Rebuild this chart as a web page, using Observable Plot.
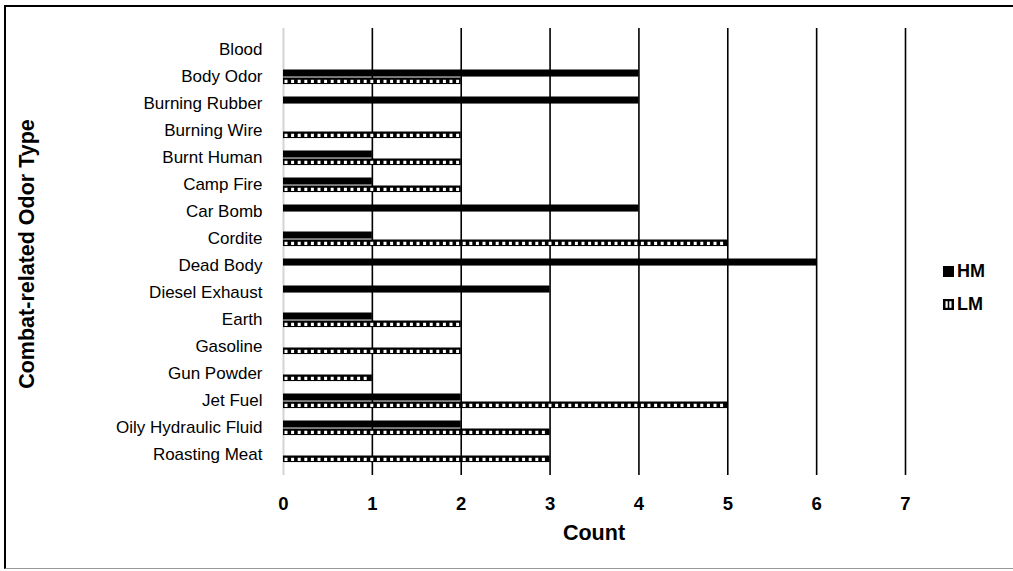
<!DOCTYPE html>
<html>
<head>
<meta charset="utf-8">
<script src="https://cdn.jsdelivr.net/npm/d3@7"></script>
<script src="https://cdn.jsdelivr.net/npm/@observablehq/plot@0.6"></script>
<style>
  body { margin: 0; background: #fff; font-family: "Liberation Sans", Arial, sans-serif; }
  #wrap { position: relative; width: 1013px; height: 571px; overflow: hidden; background: #fff; }
  #frame { position: absolute; left: 4px; top: 5px; width: 1030px; height: 561px;
           border-top: 2.5px solid #000; border-left: 2px solid #000; border-bottom: 1.5px solid #999; }
  #chart { position: absolute; left: 0; top: 0; }
  .ytitle { position: absolute; left: 27px; top: 254px; transform: translate(-50%, -50%) rotate(-90deg);
            font-weight: bold; font-size: 21.5px; white-space: nowrap; color: #000; }
  .xtitle { position: absolute; left: 594px; top: 533px; transform: translate(-50%, -50%);
            font-weight: bold; font-size: 21.5px; color: #000; }
  .leg { position: absolute; left: 943px; display: flex; align-items: center; font-weight: bold; font-size: 18px; color: #000; }
  .leg svg { margin-right: 3px; }
</style>
</head>
<body>
<div id="wrap">
  <div id="frame"></div>
  <div id="chart"></div>
  <div class="ytitle">Combat-related Odor Type</div>
  <div class="xtitle">Count</div>
  <div class="leg" style="top:261px"><svg width="11" height="11"><rect width="11" height="11" fill="#000"/></svg>HM</div>
  <div class="leg" style="top:294px"><svg width="11" height="11"><rect width="11" height="11" fill="#000"/><rect x="2.5" y="2.2" width="2.2" height="6.6" fill="#fff"/><rect x="6.3" y="2.2" width="2.2" height="6.6" fill="#fff"/></svg>LM</div>
</div>
<script>
const odors = ["Blood", "Body Odor", "Burning Rubber", "Burning Wire", "Burnt Human", "Camp Fire",
  "Car Bomb", "Cordite", "Dead Body", "Diesel Exhaust", "Earth", "Gasoline", "Gun Powder",
  "Jet Fuel", "Oily Hydraulic Fluid", "Roasting Meat"];
const hmCounts = [0, 4, 4, 0, 1, 1, 4, 1, 6, 3, 1, 0, 0, 2, 2, 0];
const lmCounts = [0, 2, 0, 2, 2, 2, 0, 5, 0, 0, 2, 2, 1, 5, 3, 3];
const xTicks = [0, 1, 2, 3, 4, 5, 6, 7];

const rows = odors.map((o, i) => ({odor: o, HM: hmCounts[i], LM: lmCounts[i]}));
const W = 1013, H = 571, mT = 28, mB = 96, mL = 283, mR = 108;
const band = (H - mT - mB) / odors.length;

const chart = Plot.plot({
  width: W, height: H,
  marginLeft: mL, marginRight: mR, marginTop: mT, marginBottom: mB,
  style: {fontFamily: '"Liberation Sans", Arial, sans-serif', background: "transparent", color: "#000"},
  x: {domain: [0, 7], label: null},
  y: {domain: odors, padding: 0, label: null},
  marks: [
    Plot.ruleX(xTicks.filter(d => d > 0), {stroke: "#000", strokeWidth: 1.6}),
    Plot.ruleX([0], {stroke: "#d4d4d4", strokeWidth: 2}),
    Plot.barX(rows.filter(d => d.HM > 0), {y: "odor", x: "HM", fill: "#000",
      insetTop: 6.5, insetBottom: band - 14.5}),
    Plot.barX(rows.filter(d => d.LM > 0), {y: "odor", x: "LM", fill: "#000",
      insetTop: 14.5, insetBottom: band - 22}),
    Plot.ruleY(rows.filter(d => d.LM > 0), {y: "odor", x1: 0, x2: "LM", dy: 4.3,
      stroke: "#fff", strokeWidth: 3.2, strokeDasharray: "3,3.6", insetLeft: 1.5, insetRight: 1.5}),
    Plot.axisX({ticks: xTicks, tickSize: 0, tickPadding: 21, fontSize: 18.5, fontWeight: "bold",
      label: null, tickFormat: d => String(d)}),
    Plot.axisY({tickSize: 0, tickPadding: 21, fontSize: 17, label: null})
  ]
});
document.getElementById("chart").appendChild(chart);
</script>
</body>
</html>
